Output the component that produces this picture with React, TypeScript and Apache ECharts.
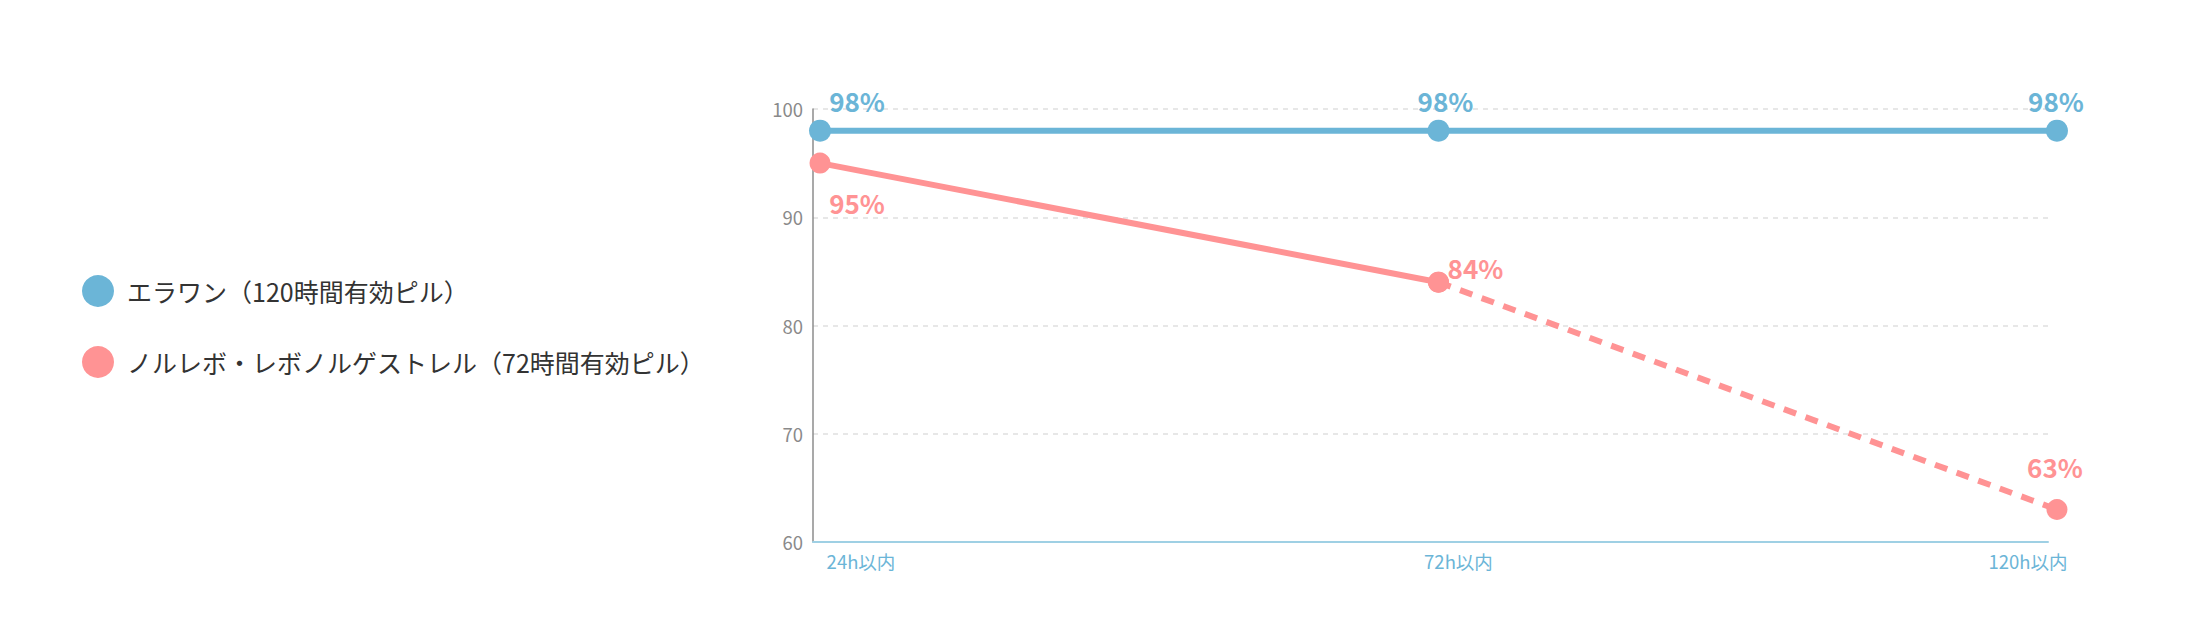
import React, { useEffect, useRef } from "react";
import * as echarts from "echarts";

const hours = [24, 72, 120];
const hourLabels = ["24h以内", "72h以内", "120h以内"];
const yTicks = [60, 70, 80, 90, 100];

const ellaName = "エラワン（120時間有効ピル）";
const ellaValues = [98, 98, 98];

const levoName = "ノルレボ・レボノルゲストレル（72時間有効ピル）";
const levoSolid = [95, 84, null];
const levoDashed = [null, 84, 63];

const BLUE = "#6bb5d7";
const PINK = "#ff9394";
const FONT = "'Noto Sans CJK JP', 'Noto Sans', sans-serif";

// pixel scale of the x axis, so the axis line stops a bit short of 120h like the original
const PX_PER_HOUR = 12.885;
const X_MIN = 24 - 7 / PX_PER_HOUR;
const X_MAX = 24 + 1228 / PX_PER_HOUR;

// label offsets from each point centre (style only)
const ellaLabelOffsets = [[37, -30], [7, -30], [-1, -30]];
const levoLabelOffsets = [[37, 39], [37, -15], [-2, -43]];
// x label shifts from their tick (px)
const xLabelShift = [41, 20, -20];

const App: React.FC = () => {
  const chartRef = useRef<HTMLDivElement>(null);

  useEffect(() => {
    document.body.style.margin = "0";
    const chart = echarts.init(chartRef.current!, undefined, { renderer: "svg" });

    const pctLabel = (color: string, offset: number[]) => ({
      show: true,
      position: "inside",
      offset,
      color,
      fontSize: 26,
      fontWeight: 600,
      fontFamily: FONT,
      formatter: (p: any) => `${p.value[1]}%`
    });

    const toPoints = (vals: (number | null)[], color: string, offsets: number[][], showLabel: boolean[]) =>
      vals
        .map((v, i) =>
          v == null
            ? null
            : {
                value: [hours[i], v],
                label: showLabel[i] ? pctLabel(color, offsets[i]) : { show: false }
              }
        )
        .filter((d) => d !== null);

    // label ticks, clamped into the axis extent
    const labelValues = hours.map((h) => Math.min(h, X_MAX));

    const option: echarts.EChartsOption = {
      animation: false,
      textStyle: { fontFamily: FONT },
      legend: {
        orient: "vertical",
        left: 77,
        top: 270,
        itemWidth: 32,
        itemHeight: 32,
        itemGap: 39,
        icon: "circle",
        data: [ellaName, levoName],
        textStyle: { fontSize: 25, color: "#333", fontFamily: FONT, padding: [0, 0, 0, 8] }
      },
      grid: { left: 813, right: 140, top: 109, bottom: 98 },
      xAxis: {
        type: "value",
        min: X_MIN,
        max: X_MAX,
        splitLine: { show: false },
        axisLine: { show: true, lineStyle: { color: "#9fd0e4", width: 2 } },
        axisTick: { show: false },
        axisLabel: {
          customValues: labelValues,
          showMinLabel: true,
          showMaxLabel: true,
          margin: 10,
          color: BLUE,
          fontSize: 18.5,
          fontFamily: FONT,
          formatter: (v: number) => {
            const i = labelValues.indexOf(v);
            return i < 0 ? "" : `{s${i}|${hourLabels[i]}}`;
          },
          rich: Object.fromEntries(
            xLabelShift.map((s, i) => [
              `s${i}`,
              {
                color: BLUE,
                fontSize: 18.5,
                fontFamily: FONT,
                padding: s >= 0 ? [0, 0, 0, 2 * s] : [0, -2 * s, 0, 0]
              }
            ])
          )
        }
      },
      yAxis: {
        type: "value",
        min: 60,
        max: 100,
        interval: 10,
        axisLine: { show: true, lineStyle: { color: "#8c8c8c", width: 1.5 } },
        axisTick: { show: false },
        axisLabel: {
          color: "#8a8a8a",
          fontSize: 18.5,
          margin: 10,
          fontFamily: FONT,
          formatter: (v: number) => (yTicks.includes(v) ? String(v) : "")
        },
        splitLine: { show: true, lineStyle: { color: "#e0e0e0", type: [5, 5], width: 1.5 } }
      },
      series: [
        {
          name: ellaName,
          type: "line",
          clip: false,
          symbol: "circle",
          symbolSize: 22,
          itemStyle: { color: BLUE },
          lineStyle: { color: BLUE, width: 6 },
          z: 3,
          data: toPoints(ellaValues, BLUE, ellaLabelOffsets, [true, true, true]) as any
        },
        {
          name: levoName,
          type: "line",
          clip: false,
          symbol: "circle",
          symbolSize: 21,
          itemStyle: { color: PINK },
          lineStyle: { color: PINK, width: 6 },
          z: 2,
          data: toPoints(levoSolid, PINK, levoLabelOffsets, [true, true, false]) as any
        },
        {
          name: levoName,
          type: "line",
          clip: false,
          symbol: "circle",
          symbolSize: 21,
          itemStyle: { color: PINK },
          lineStyle: { color: PINK, width: 6, type: [13, 10] },
          z: 2,
          data: toPoints(levoDashed, PINK, levoLabelOffsets, [false, false, true]) as any
        }
      ]
    };

    chart.setOption(option);

    const handleResize = () => chart.resize();
    window.addEventListener("resize", handleResize);
    return () => {
      window.removeEventListener("resize", handleResize);
      chart.dispose();
    };
  }, []);

  return <div ref={chartRef} style={{ width: "2188px", height: "640px" }} />;
};

export default App;
